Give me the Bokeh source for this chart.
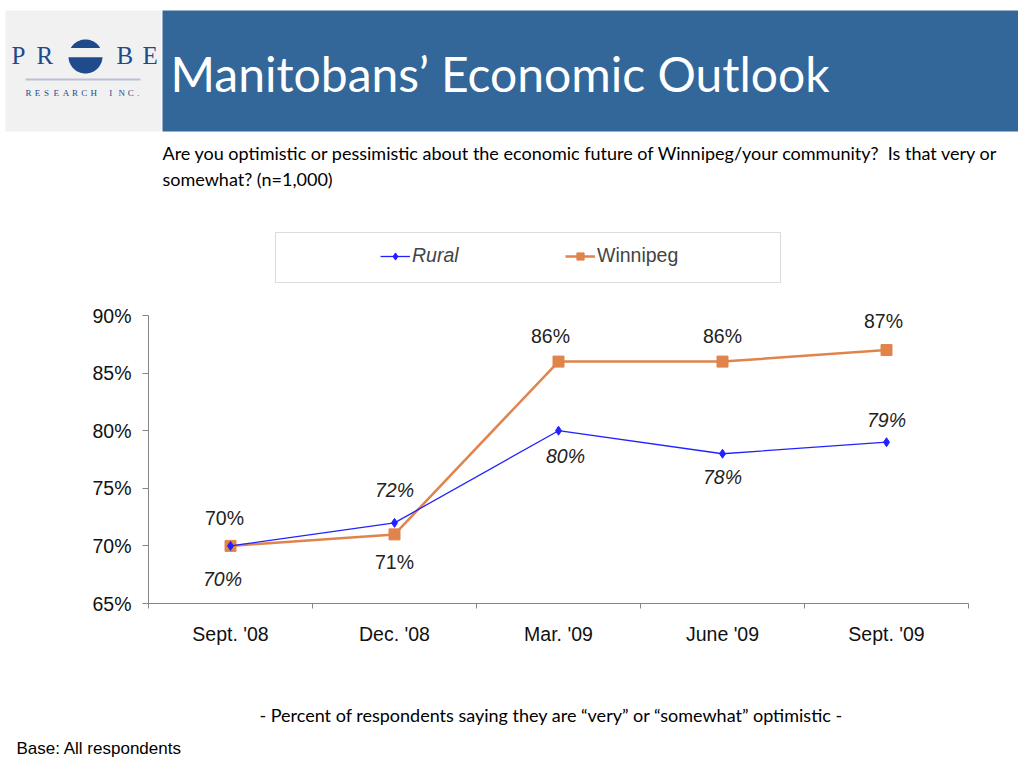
import math
from bokeh.plotting import figure
from bokeh.models import (Label, BoxAnnotation, PolyAnnotation, Legend, LegendItem,
                          FixedTicker, ColumnDataSource, LabelSet, Range1d)
from bokeh.core.properties import value
from bokeh.embed import file_html
from bokeh.resources import INLINE

categories = ["Sept. '08", "Dec. '08", "Mar. '09", "June '09", "Sept. '09"]
rural = [70, 72, 80, 78, 79]
winnipeg = [70, 71, 86, 86, 87]
y_ticks = [65, 70, 75, 80, 85, 90]

# label placement offsets (style)
rural_dy = [-33, 33, -25, -23, 22]
rural_dx = [-8, 0, 7, 0, 0]
win_dy = [28, -28, 26, 26, 29]
win_dx = [-6, 0, -8, 0, -3]

W, H = 1018, 758
# chart area in canvas px: left 148, right 968, top 315, bottom 603
FL, FR, FT, FB = 148, 968, 315, 603
N = len(categories)
YMIN, YMAX = 65, 90
xs_per = (FR - FL) / N
ys_per = (FB - FT) / (YMAX - YMIN)

p = figure(width=W, height=H, output_backend="svg", toolbar_location=None,
           x_range=Range1d(-FL / xs_per, N + (W - FR) / xs_per),
           y_range=Range1d(YMIN - (H - FB) / ys_per, YMAX + FT / ys_per))
p.min_border_left = 0
p.min_border_right = 0
p.min_border_top = 0
p.min_border_bottom = 0
p.outline_line_color = None
p.grid.visible = False
p.background_fill_color = "white"
p.border_fill_color = "white"

def sx(px):
    return px

def sy(py):
    return H - py

def box(l, t, r, b, color, line=None, lw=1, level="underlay"):
    p.add_layout(BoxAnnotation(left=sx(l), right=sx(r), top=sy(t), bottom=sy(b),
                               left_units="screen", right_units="screen",
                               top_units="screen", bottom_units="screen",
                               fill_color=color, fill_alpha=1, line_color=line,
                               line_width=lw, level=level))

# ---- header ----
box(5, 10, 161, 131, "#F1F1F1")
box(162, 10, W + 5, 131, "#336699")

NAVY = "#1F4A8C"
# logo circle
cx, cy, r = 85, 56, 17
def arc(a0, a1, n=40):
    xs, ys = [], []
    for i in range(n + 1):
        a = a0 + (a1 - a0) * i / n
        xs.append(sx(cx + r * math.cos(a)))
        ys.append(sy(cy - r * math.sin(a)))
    return xs, ys
h1 = 0.5
xs, ys = arc(math.asin(h1), math.pi - math.asin(h1))
p.add_layout(PolyAnnotation(xs=xs, ys=ys, xs_units="screen", ys_units="screen",
                            fill_color=NAVY, fill_alpha=1, line_color=None))
h2 = 0.05
xs, ys = arc(math.pi + math.asin(h2), 2 * math.pi - math.asin(h2))
p.add_layout(PolyAnnotation(xs=xs, ys=ys, xs_units="screen", ys_units="screen",
                            fill_color=NAVY, fill_alpha=1, line_color=None))

def txt(text, x, y, size, color="black", font="Liberation Sans", align="left",
        baseline="middle", style="normal"):
    p.add_layout(Label(x=sx(x), y=sy(y), x_units="screen", y_units="screen", text=text,
                       text_font=font, text_font_size=f"{size}px", text_color=color,
                       text_align=align, text_baseline=baseline, text_font_style=style))

txt("P", 11, 55, 25, NAVY, "Liberation Serif")
txt("R", 36, 55, 25, NAVY, "Liberation Serif")
txt("B", 116, 55, 25, NAVY, "Liberation Serif")
txt("E", 142, 55, 25, NAVY, "Liberation Serif")
box(25, 78, 140, 80, "#B7C2D6", level="annotation")
for i, ch in enumerate("RESEARCH INC."):
    if ch != " ":
        txt(ch, 25 + i * 9.3, 92, 9, NAVY, "Liberation Serif")

txt("Manitobans\u2019 Economic Outlook", 170, 73, 48, "white", "Lato")

txt("Are you optimistic or pessimistic about the economic future of Winnipeg/your community?\u00a0 Is that very or",
    162, 152, 18, "black", "Lato")
txt("somewhat? (n=1,000)", 162, 178, 18, "black", "Lato")

# ---- legend box ----
box(275, 232, 780, 282, "white", line="#8C8C8C", lw=1)

# ---- data ----
xpos = [i + 0.5 for i in range(N)]
src = ColumnDataSource(dict(x=xpos, rural=rural, win=winnipeg,
                            rlab=[f"{v}%" for v in rural], wlab=[f"{v}%" for v in winnipeg],
                            rdx=rural_dx, rdy=rural_dy, wdx=win_dx, wdy=win_dy))

WC = "#E0844C"
RC = "#2222FF"
wl = p.line("x", "win", source=src, line_color=WC, line_width=2.5)
ws = p.scatter("x", "win", source=src, marker="square", size=11, fill_color=WC, line_color=WC)
rl = p.line("x", "rural", source=src, line_color=RC, line_width=1.3)
rs = p.scatter("x", "rural", source=src, marker="diamond", size=9, fill_color=RC, line_color=RC)

FS = "19.5px"
p.add_layout(LabelSet(x="x", y="rural", text="rlab", source=src, x_offset="rdx", y_offset="rdy",
                      text_align="center", text_baseline="middle", text_font=value("Liberation Sans"),
                      text_font_size=FS, text_font_style="italic", text_color="#222222"))
p.add_layout(LabelSet(x="x", y="win", text="wlab", source=src, x_offset="wdx", y_offset="wdy",
                      text_align="center", text_baseline="middle", text_font=value("Liberation Sans"),
                      text_font_size=FS, text_color="#222222"))

leg1 = Legend(items=[LegendItem(label="Rural", renderers=[rl, rs])],
              location=(sx(380), sy(258) - 9), border_line_color=None, background_fill_alpha=0,
              padding=0, margin=0, glyph_width=30, glyph_height=18, label_height=18,
              label_standoff=2, label_text_font="Liberation Sans", label_text_font_size=FS,
              label_text_font_style="italic")
leg2 = Legend(items=[LegendItem(label="Winnipeg", renderers=[wl, ws])],
              location=(sx(565), sy(258) - 9), border_line_color=None, background_fill_alpha=0,
              padding=0, margin=0, glyph_width=30, glyph_height=18, label_height=18,
              label_standoff=2, label_text_font="Liberation Sans", label_text_font_size=FS)
p.add_layout(leg1)
p.add_layout(leg2)

# ---- axes (fixed at the chart's corner) ----
AX = "#868686"
xa = p.xaxis[0]
xa.fixed_location = YMIN
xa.bounds = (0, N)
xa.ticker = FixedTicker(ticks=xpos, minor_ticks=list(range(N + 1)))
xa.major_label_overrides = {x: c for x, c in zip(xpos, categories)}
xa.major_tick_line_color = None
xa.major_tick_out = 0
xa.major_tick_in = 0
xa.minor_tick_line_color = AX
xa.minor_tick_out = 5
xa.minor_tick_in = 0
xa.axis_line_color = AX
xa.major_label_standoff = 14
xa.major_label_text_font = "Liberation Sans"
xa.major_label_text_font_size = FS
xa.major_label_text_color = "#111111"

ya = p.yaxis[0]
ya.fixed_location = 0
ya.bounds = (YMIN, YMAX)
ya.ticker = FixedTicker(ticks=y_ticks, minor_ticks=[])
ya.major_label_overrides = {t: f"{t}%" for t in y_ticks}
ya.major_tick_line_color = AX
ya.major_tick_out = 6
ya.major_tick_in = 0
ya.axis_line_color = AX
ya.major_label_standoff = 11
ya.major_label_text_font = "Liberation Sans"
ya.major_label_text_font_size = FS
ya.major_label_text_color = "#111111"

# ---- footer ----
txt("- Percent of respondents saying they are \u201cvery\u201d or \u201csomewhat\u201d optimistic -",
    551, 714, 18, "black", "Lato", align="center")
txt("Base: All respondents", 16, 748, 17, "black", "Liberation Sans")

open("out.html", "w").write(file_html(p, INLINE))
